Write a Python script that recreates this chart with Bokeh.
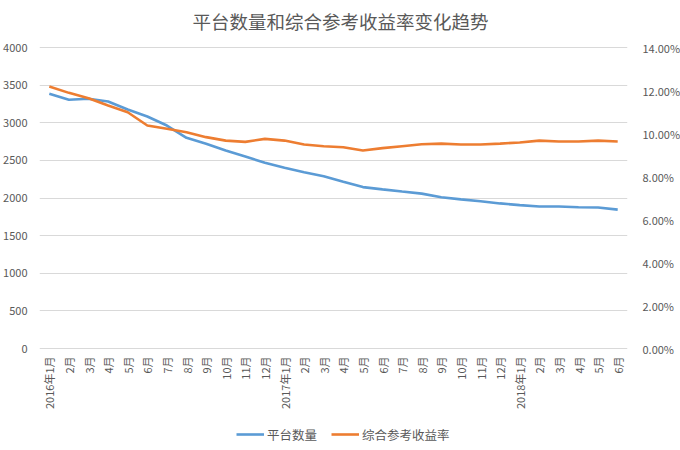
import math
from bokeh.plotting import figure
from bokeh.models import (Range1d, LinearAxis, FixedTicker, NumeralTickFormatter,
                          Legend, LegendItem, ColumnDataSource)
from bokeh.core.properties import value
from bokeh.embed import file_html
from bokeh.resources import INLINE

title = "平台数量和综合参考收益率变化趋势"
months = ["2016年1月", "2月", "3月", "4月", "5月", "6月", "7月", "8月", "9月", "10月", "11月", "12月",
          "2017年1月", "2月", "3月", "4月", "5月", "6月", "7月", "8月", "9月", "10月", "11月", "12月",
          "2018年1月", "2月", "3月", "4月", "5月", "6月"]
platforms = [3385, 3305, 3318, 3282, 3176, 3083, 2963, 2800, 2720, 2631, 2551, 2468,
             2401, 2343, 2290, 2215, 2145, 2115, 2086, 2058, 2011, 1982, 1957, 1928,
             1905, 1887, 1887, 1878, 1874, 1845]
rates = [0.1219, 0.1189, 0.1164, 0.1130, 0.1099, 0.1037, 0.1022, 0.1006, 0.0983, 0.0967, 0.0961, 0.0975,
         0.0967, 0.0949, 0.0941, 0.0936, 0.0921, 0.0932, 0.0941, 0.0950, 0.0953, 0.0949, 0.0949, 0.0953,
         0.0958, 0.0967, 0.0963, 0.0963, 0.0967, 0.0963]
left_ticks = [0, 500, 1000, 1500, 2000, 2500, 3000, 3500, 4000]
right_ticks = [0.0, 0.02, 0.04, 0.06, 0.08, 0.10, 0.12, 0.14]
LEFT_MAX = 4000
RIGHT_MAX = 0.14

FONT = "Noto Sans CJK SC"
GRAY = "#595959"

# layout (pixels): 47 px above the chart area for the title, 301 px chart, 102 px below
TOP_PX = 47
PLOT_PX = 301
BELOW_PX = 102
left_min = -LEFT_MAX * BELOW_PX / PLOT_PX
left_max = LEFT_MAX + LEFT_MAX * TOP_PX / PLOT_PX
right_min = -RIGHT_MAX * BELOW_PX / PLOT_PX
right_max = RIGHT_MAX + RIGHT_MAX * TOP_PX / PLOT_PX

idx = list(range(len(months)))
src = ColumnDataSource(dict(x=idx, p=platforms, r=rates))
lab = ColumnDataSource(dict(x=idx, y=[0] * len(idx), t=months))

p = figure(frame_width=588, frame_height=TOP_PX + PLOT_PX + BELOW_PX, output_backend="svg",
           toolbar_location=None,
           x_range=Range1d(-0.5, len(months) - 0.5), y_range=Range1d(left_min, left_max),
           min_border_left=39, min_border_right=53, min_border_top=0, min_border_bottom=0)
p.outline_line_color = None
p.background_fill_color = "white"
p.border_fill_color = "white"

p.extra_y_ranges = {"rate": Range1d(right_min, right_max)}

l1 = p.line("x", "p", source=src, line_color="#5B9BD5", line_width=2.6)
l2 = p.line("x", "r", source=src, line_color="#ED7D31", line_width=2.6, y_range_name="rate")

# chart title, centred over the figure, above the top grid line
p.text(x=[(len(months) - 1) / 2], y=[LEFT_MAX], text=[title], x_offset=7, y_offset=-27,
       text_align="center", text_baseline="middle", text_font=value(FONT),
       text_font_size="18.5px", text_color=GRAY)

# category labels under the zero line, rotated to read bottom-to-top
p.text("x", "y", text="t", source=lab, angle=math.pi / 2, text_align="right",
       text_baseline="middle", y_offset=8, text_font=value(FONT),
       text_font_size="11px", text_color=GRAY)

p.xaxis.visible = False

# left axis
ya = p.yaxis[0]
ya.ticker = FixedTicker(ticks=left_ticks)
ya.axis_line_color = None
ya.major_tick_line_color = None
ya.minor_tick_line_color = None
ya.major_label_text_font = FONT
ya.major_label_text_font_size = "11px"
ya.major_label_text_color = GRAY
ya.major_label_standoff = 6

# right axis
ra = LinearAxis(y_range_name="rate", ticker=FixedTicker(ticks=right_ticks),
                formatter=NumeralTickFormatter(format="0.00%"))
ra.axis_line_color = None
ra.major_tick_line_color = None
ra.minor_tick_line_color = None
ra.major_label_text_font = FONT
ra.major_label_text_font_size = "11px"
ra.major_label_text_color = GRAY
ra.major_label_standoff = 9
p.add_layout(ra, "right")

p.xgrid.grid_line_color = None
p.ygrid.ticker = FixedTicker(ticks=left_ticks)
p.ygrid.grid_line_color = "#D9D9D9"
p.ygrid.grid_line_width = 1

legend = Legend(items=[LegendItem(label="平台数量", renderers=[l1]),
                       LegendItem(label="综合参考收益率", renderers=[l2])],
                orientation="horizontal", location=(197, 6),
                border_line_color=None, background_fill_alpha=0,
                label_text_font=FONT, label_text_font_size="12.5px", label_text_color=GRAY,
                glyph_width=28, label_standoff=3, spacing=14, margin=0, padding=2)
p.add_layout(legend, "center")

open("out.html", "w").write(file_html(p, INLINE))
